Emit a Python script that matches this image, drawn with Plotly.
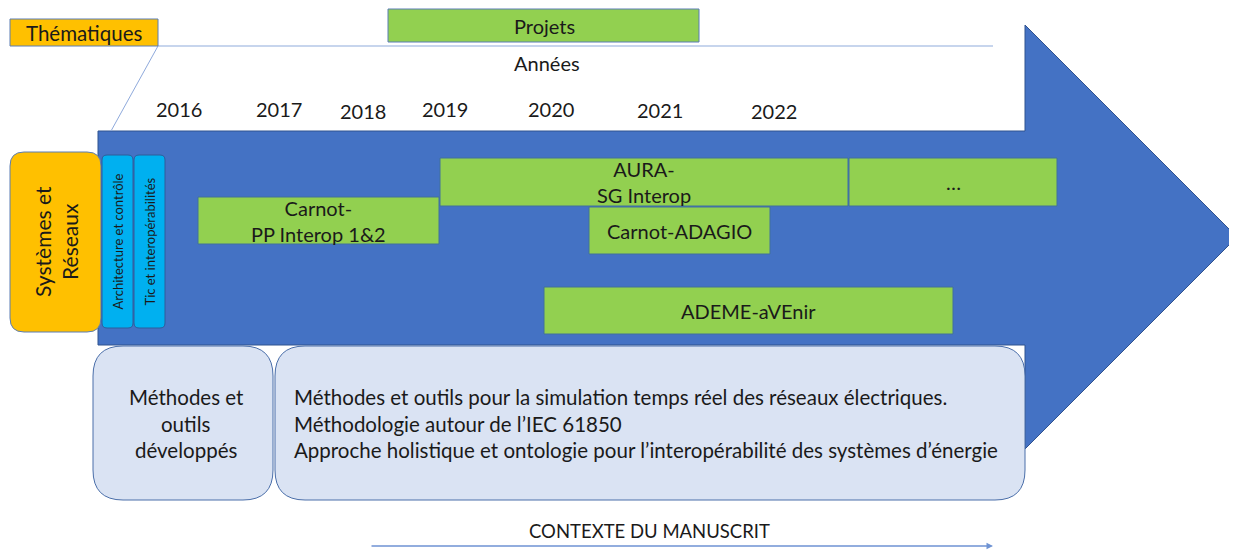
import plotly.graph_objects as go

# ---- data (text content) ----
years = ["2016", "2017", "2018", "2019", "2020", "2021", "2022"]
year_x = [179, 279, 363, 445, 551, 660, 774]
year_y = [109, 109, 111, 109, 109, 110, 111]

projects = ["Carnot-<br>PP Interop 1&2", "AURA-<br>SG Interop", "…", "Carnot-ADAGIO", "ADEME-aVEnir"]
project_x0 = [198, 440, 849, 589, 544]
project_x1 = [439, 848, 1057, 770, 953]
project_y0 = [197, 158, 158, 207, 287]
project_y1 = [244, 206, 206, 254, 334]

theme_main = "Systèmes et<br>Réseaux"
sub_themes = ["Architecture et contrôle", "Tic et interopérabilités"]
methods_title = ["Méthodes et", "outils", "développés"]
methods_lines = [
    "Méthodes et outils pour la simulation temps réel des réseaux électriques.",
    "Méthodologie autour de l’IEC 61850",
    "Approche holistique et ontologie pour l’interopérabilité des systèmes d’énergie",
]

FONT = "Lato"
ORANGE = "#FFC000"
GREEN = "#92D050"
BLUE = "#4472C4"
CYAN = "#00B0F0"
PALE = "#DAE3F3"
EDGE = "#2F528F"
TXT = "#1a1a1a"

# page has an 8px body margin: the figure div starts at page pixel 8
OFF = 8
W, H = 1237, 550


def rrect(x0, y0, x1, y1, r):
    return (f"M {x0+r},{y0} L {x1-r},{y0} Q {x1},{y0} {x1},{y0+r} "
            f"L {x1},{y1-r} Q {x1},{y1} {x1-r},{y1} L {x0+r},{y1} "
            f"Q {x0},{y1} {x0},{y1-r} L {x0},{y0+r} Q {x0},{y0} {x0+r},{y0} Z")


fig = go.Figure()
fig.add_trace(go.Scatter(x=[OFF, W], y=[OFF, H], mode="markers",
                         marker=dict(opacity=0), hoverinfo="skip", showlegend=False))

shapes = []
annotations = []

# big arrow
shapes.append(dict(type="path",
                   path="M 98,131 L 1025,131 L 1025,25 L 1237,237 L 1025,449 L 1025,345 L 98,345 Z",
                   fillcolor=BLUE, line=dict(color=EDGE, width=1), layer="below"))

# header lines
shapes.append(dict(type="line", x0=158, y0=46, x1=993, y1=46, line=dict(color="#B4C7E7", width=1.5)))
shapes.append(dict(type="line", x0=158, y0=46, x1=111, y1=131, line=dict(color="#8FAADC", width=1)))

# Thématiques box
shapes.append(dict(type="rect", x0=10, y0=19, x1=158, y1=46, fillcolor=ORANGE,
                   line=dict(color="#5B7DB5", width=1)))
annotations.append(dict(x=84, y=33, text="Thématiques", showarrow=False,
                        font=dict(size=20.5, color=TXT, family=FONT)))
# Projets box
shapes.append(dict(type="rect", x0=388, y0=9, x1=699, y1=42, fillcolor=GREEN,
                   line=dict(color="#5B7DB5", width=1)))
annotations.append(dict(x=544, y=26, text="Projets", showarrow=False,
                        font=dict(size=20, color=TXT, family=FONT)))
annotations.append(dict(x=547, y=63, text="Années", showarrow=False,
                        font=dict(size=20, color=TXT, family=FONT)))

for yr, xx, yy in zip(years, year_x, year_y):
    annotations.append(dict(x=xx, y=yy, text=yr, showarrow=False,
                            font=dict(size=20, color=TXT, family=FONT)))

# theme boxes
shapes.append(dict(type="path", path=rrect(10, 152, 101, 332, 14), fillcolor=ORANGE,
                   line=dict(color="#5B7DB5", width=1)))
annotations.append(dict(x=56, y=242, text=theme_main, showarrow=False, textangle=-90,
                        font=dict(size=21, color=TXT, family=FONT)))
for i, st in enumerate(sub_themes):
    x0 = 102 + i * 32
    shapes.append(dict(type="path", path=rrect(x0, 155, x0 + 31, 328, 5), fillcolor=CYAN,
                       line=dict(color="#2E5D9A", width=1)))
    annotations.append(dict(x=x0 + 15.5, y=242, text=st, showarrow=False, textangle=-90,
                            font=dict(size=13, color=TXT, family=FONT)))

# project boxes
for name, x0, x1, y0, y1 in zip(projects, project_x0, project_x1, project_y0, project_y1):
    shapes.append(dict(type="rect", x0=x0, y0=y0, x1=x1, y1=y1, fillcolor=GREEN,
                       line=dict(color="#41719C", width=1)))
    annotations.append(dict(x=(x0 + x1) / 2, y=(y0 + y1) / 2, text=name, showarrow=False,
                            font=dict(size=20, color=TXT, family=FONT)))

# bottom boxes
shapes.append(dict(type="path", path=rrect(93, 346, 273, 500, 30), fillcolor=PALE,
                   line=dict(color="#4A6EA9", width=1)))
shapes.append(dict(type="path", path=rrect(275, 346, 1025, 500, 30), fillcolor=PALE,
                   line=dict(color="#4A6EA9", width=1)))
for i, t in enumerate(methods_title):
    annotations.append(dict(x=186, y=397 + i * 26.5, text=t, showarrow=False,
                            font=dict(size=20.5, color=TXT, family=FONT)))
for i, t in enumerate(methods_lines):
    annotations.append(dict(x=292, y=397 + i * 26.5, text=t, showarrow=False, xanchor="left",
                            font=dict(size=20.5, color=TXT, family=FONT)))

# bottom context arrow
annotations.append(dict(x=649, y=531, text="CONTEXTE DU MANUSCRIT", showarrow=False,
                        font=dict(size=18.5, color=TXT, family=FONT)))
annotations.append(dict(x=993, y=546, ax=370, ay=546, xref="x", yref="y", axref="x", ayref="y",
                        text="", showarrow=True, arrowhead=2, arrowsize=1, arrowwidth=1.3,
                        arrowcolor="#6F93D3"))

fig.update_layout(
    width=W - OFF, height=H - OFF, margin=dict(l=0, r=0, t=0, b=0),
    paper_bgcolor="white", plot_bgcolor="white",
    xaxis=dict(range=[OFF, W], visible=False, fixedrange=True),
    yaxis=dict(range=[H, OFF], visible=False, fixedrange=True),
    shapes=shapes, annotations=annotations, showlegend=False,
)
fig.write_html("out.html")
